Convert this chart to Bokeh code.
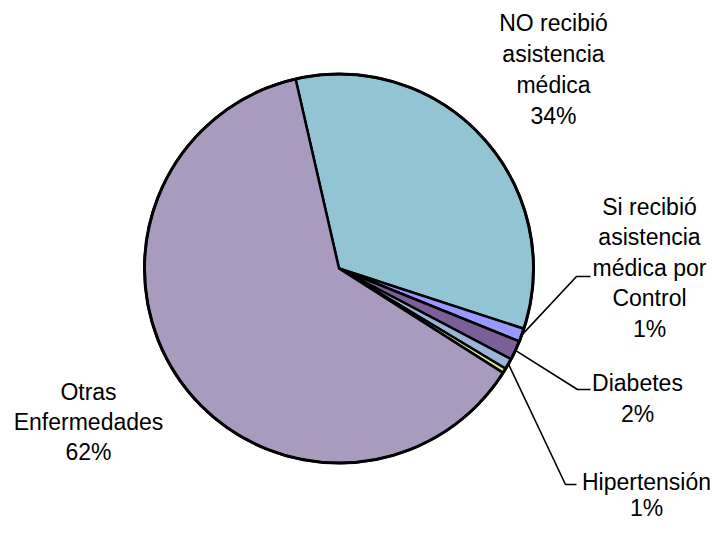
import math
from bokeh.plotting import figure
from bokeh.models import Range1d, ColumnDataSource
from bokeh.embed import file_html
from bokeh.resources import INLINE
from bokeh.core.properties import value

# ---- data ----
categories = ["NO recibió asistencia médica",
              "Si recibió asistencia médica por Control",
              "Diabetes", "Hipertensión", "Otros",
              "Otras Enfermedades"]
shares = [33.6, 1.1, 1.6, 0.9, 0.4, 62.4]
label_lines = [["NO recibió", "asistencia", "médica"],
               ["Si recibió", "asistencia", "médica por", "Control"],
               ["Diabetes"],
               ["Hipertensión"],
               [],
               ["Otras", "Enfermedades"]]
colors = ["#93C4D3", "#9999FF", "#7A6096", "#9BB5D6", "#D6E6A2", "#A99BBE"]

# ---- layout (picture px coords, 1:1) ----
W, H = 711, 522
cx, cy, r = 338.5, 268, 194.5
start_deg = 102.9
FONT = value("Liberation Sans")
FS = "23px"

# label anchors: (center x, first baseline y, line spacing)
label_pos = [(553, 22, 31), (649, 206, 30.6), (637, 382, 31),
             (646, 481, 26), None, (88, 391, 30)]
# leader elbows: (elbow x, elbow y, end x)
leaders = [None, (576, 276, 590), (577, 389, 590), (565, 484, 576), None, None]


def Y(y):
    return H - y


p = figure(width=W, height=H, x_range=Range1d(0, W), y_range=Range1d(0, H),
           output_backend="svg", toolbar_location=None, min_border=0)
p.axis.visible = False
p.grid.visible = False
p.outline_line_color = None
p.background_fill_color = "white"
p.border_fill_color = "white"

total = sum(shares)
starts, ends, mids = [], [], []
cum = 0.0
a0 = math.radians(start_deg)
for v in shares:
    s = a0 - 2 * math.pi * cum / total
    e = s - 2 * math.pi * v / total
    starts.append(s)
    ends.append(e)
    mids.append((s + e) / 2)
    cum += v

src = ColumnDataSource(dict(start=starts, end=ends, color=colors, cat=categories))
p.wedge(x=cx, y=Y(cy), radius=r, start_angle="start", end_angle="end",
        direction="clock", fill_color="color", line_color="black",
        line_width=2.5, source=src)
p.circle(x=cx, y=Y(cy), radius=r, fill_color=None, line_color="black", line_width=3)

# leaders
for i, ld in enumerate(leaders):
    if ld is None:
        continue
    m = mids[i]
    sx = cx + r * math.cos(m)
    sy = Y(cy) + r * math.sin(m)
    ex, ey, hx = ld
    p.line([sx, ex, hx], [sy, Y(ey), Y(ey)], line_color="black", line_width=1.6)

# labels
for i, pos in enumerate(label_pos):
    if pos is None:
        continue
    x0, y0, dy = pos
    lines = label_lines[i] + [f"{round(shares[i] * 100 / total)}%"]
    xs = [x0] * len(lines)
    ys = [Y(y0 + k * dy) for k in range(len(lines))]
    p.text(x=xs, y=ys, text=lines, text_font=FONT, text_font_size=FS,
           text_align="center", text_baseline="alphabetic", text_color="black")

open("out.html", "w").write(file_html(p, INLINE))
